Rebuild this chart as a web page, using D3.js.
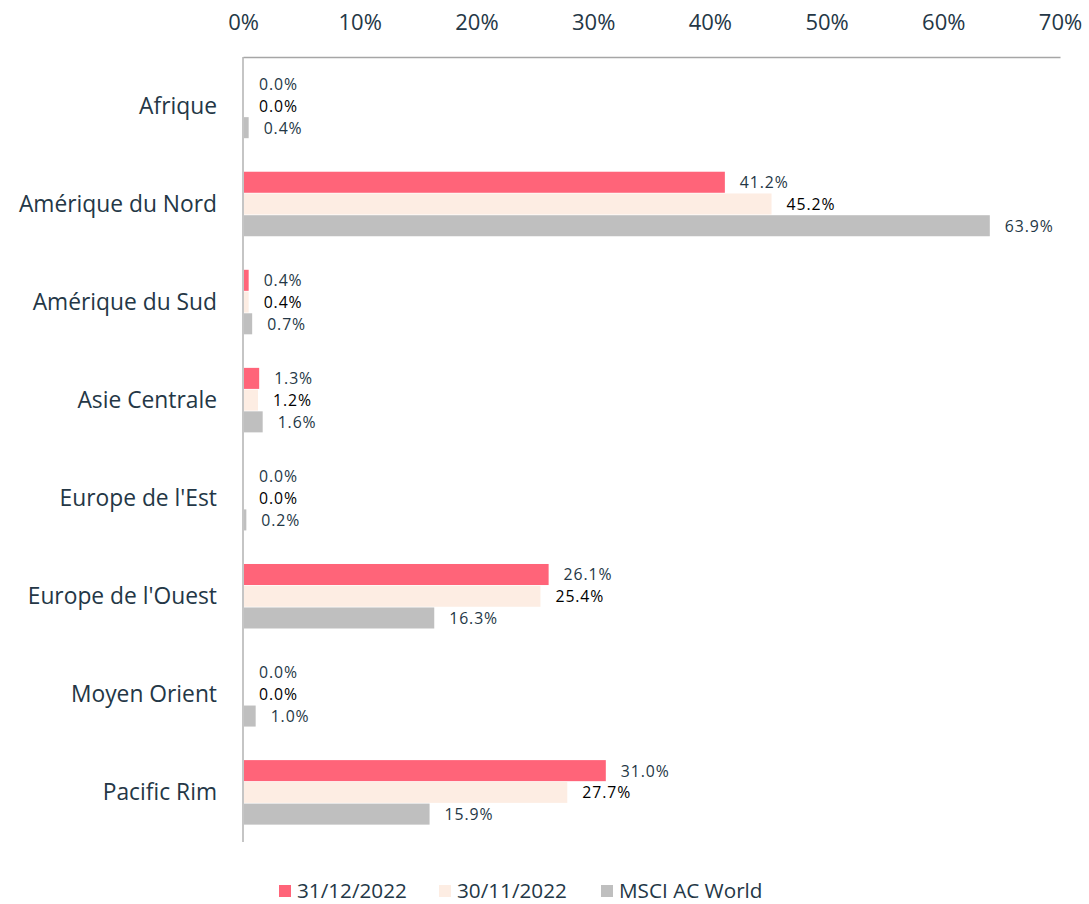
<!DOCTYPE html>
<html lang="fr">
<head>
    <meta charset="UTF-8">
    <title>Répartition géographique</title>
    <script src="https://cdn.jsdelivr.net/npm/d3@7"></script>
    <style>
        body { margin: 0; background: white; }
        text { font-family: 'Open Sans', sans-serif; }
    </style>
</head>
<body>
    <div id="chart"></div>
    <script>
        // ---- data ----
        const regions = ["Afrique", "Amérique du Nord", "Amérique du Sud", "Asie Centrale",
            "Europe de l'Est", "Europe de l'Ouest", "Moyen Orient", "Pacific Rim"];
        const seriesNames = ["31/12/2022", "30/11/2022", "MSCI AC World"];
        const dec2022 = [0.0, 41.2, 0.4, 1.3, 0.0, 26.1, 0.0, 31.0];
        const nov2022 = [0.0, 45.2, 0.4, 1.2, 0.0, 25.4, 0.0, 27.7];
        const msci = [0.4, 63.9, 0.7, 1.6, 0.2, 16.3, 1.0, 15.9];
        const xTicks = [0, 10, 20, 30, 40, 50, 60, 70];

        const colors = ["#ff6479", "#fdede3", "#bfbfbf"];
        const labelColors = ["#243746", "#000000", "#243746"];

        const width = 1089, height = 904;
        const margin = { top: 57, left: 243, right: 29, bottom: 62 };

        const svg = d3.select("#chart").append("svg")
            .attr("width", width).attr("height", height);

        const x = d3.scaleLinear().domain([0, 70]).range([margin.left, width - margin.right]);
        const y = d3.scaleBand().domain(regions)
            .range([margin.top, height - margin.bottom]).paddingInner(0.335).paddingOuter(0.17);
        const ySub = d3.scaleBand().domain(seriesNames).range([0, y.bandwidth()]);

        const series = [dec2022, nov2022, msci];

        // top axis
        const xAxis = svg.append("g")
            .attr("transform", `translate(0,${margin.top})`)
            .call(d3.axisTop(x).tickValues(xTicks).tickFormat(d => d + "%").tickSize(0).tickPadding(27));
        xAxis.select(".domain").attr("stroke", "#a6a6a6").attr("stroke-width", 1.3);
        xAxis.selectAll("text").attr("font-size", 22).attr("fill", "#243746");

        // left axis
        const yAxis = svg.append("g")
            .attr("transform", `translate(${margin.left},0)`)
            .call(d3.axisLeft(y).tickSize(0).tickPadding(26));
        yAxis.select(".domain").attr("stroke", "#a6a6a6").attr("stroke-width", 1.3)
            .attr("d", `M0,${margin.top}V${height - margin.bottom}`);
        yAxis.selectAll("text").attr("font-size", 22.8).attr("fill", "#243746");

        // bars + labels
        series.forEach((vals, si) => {
            const g = svg.append("g");
            g.selectAll("rect")
                .data(vals)
                .join("rect")
                .attr("x", x(0) + 1)
                .attr("y", (d, i) => y(regions[i]) + ySub(seriesNames[si]))
                .attr("width", d => Math.max(0, x(d) - x(0)))
                .attr("height", ySub.bandwidth() - 0.7)
                .attr("fill", colors[si]);
            g.selectAll("text")
                .data(vals)
                .join("text")
                .attr("x", d => x(d) + 16)
                .attr("y", (d, i) => y(regions[i]) + ySub(seriesNames[si]) + ySub.bandwidth() / 2)
                .attr("dy", "0.35em")
                .attr("font-size", 15.8)
                .attr("letter-spacing", 0.9)
                .attr("fill", labelColors[si])
                .text(d => d.toFixed(1) + "%");
        });

        // legend
        const legendX = [279, 439, 601];
        const legend = svg.append("g");
        seriesNames.forEach((name, i) => {
            legend.append("rect")
                .attr("x", legendX[i]).attr("y", 885)
                .attr("width", 12).attr("height", 12)
                .attr("fill", colors[i]);
            legend.append("text")
                .attr("x", legendX[i] + 18).attr("y", 891)
                .attr("dy", "0.35em")
                .attr("font-size", 20.7)
                .attr("fill", "#243746")
                .text(name);
        });
    </script>
</body>
</html>
